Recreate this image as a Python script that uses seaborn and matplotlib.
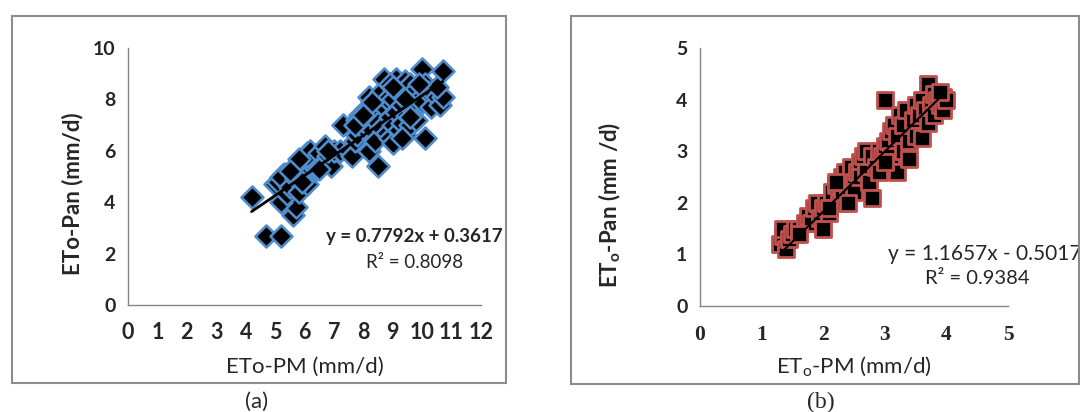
import numpy as np
import pandas as pd
import matplotlib
matplotlib.use("Agg")
import matplotlib.pyplot as plt
from matplotlib.patches import Rectangle
import seaborn as sns

# panel (a): ETo-PM vs ETo-Pan
pm_a = [4.2, 4.7, 5.2, 5.6, 5.7, 5.0, 5.1, 5.2, 5.3, 5.2, 5.4, 5.5, 5.6, 5.7, 5.8,
        5.9, 6.0, 6.0, 6.1, 6.2, 6.1, 6.3, 6.4, 6.5, 6.6, 6.7, 6.8, 6.9, 7.0, 7.2,
        6.8, 6.5, 5.8, 5.5, 5.9,
        7.3, 7.5, 7.6, 7.7, 7.8, 7.9, 7.8, 8.0, 8.1, 8.2, 8.2, 8.3, 8.4, 8.4, 8.5,
        8.5, 8.6, 8.6, 8.7, 8.7, 8.8, 8.8, 8.9, 8.9, 9.0, 9.0, 9.0, 9.1, 9.1, 9.2,
        9.2, 9.3, 9.3, 9.4, 9.4, 9.5, 9.5, 9.6, 9.6, 9.7, 9.8, 9.8, 9.9, 10.0, 10.0,
        10.1, 10.1, 10.2, 10.3, 10.4, 10.5, 10.6, 10.7, 10.7, 10.5, 9.9, 8.3, 7.7, 8.0,
        9.3, 9.6, 8.9, 9.0, 9.4]
pan_a = [4.2, 2.7, 2.7, 3.5, 3.8, 4.7, 4.8, 4.0, 5.1, 5.0, 4.3, 4.6, 5.3, 4.9, 4.4,
         5.5, 5.8, 5.0, 5.9, 6.0, 4.7, 5.6, 5.3, 5.9, 5.5, 6.2, 5.8, 5.4, 6.0, 6.0,
         6.0, 5.3, 5.7, 5.2, 4.8,
         7.0, 6.0, 5.8, 6.4, 7.2, 7.4, 6.6, 6.9, 7.6, 6.0, 8.1, 6.8, 7.5, 6.4, 5.4,
         7.1, 8.3, 6.9, 8.8, 7.7, 6.7, 8.0, 7.3, 6.5, 8.0, 7.0, 6.3, 8.8, 7.5, 6.8,
         8.4, 7.8, 7.1, 6.6, 8.7, 7.4, 8.1, 7.0, 8.6, 7.6, 8.4, 7.2, 8.0, 9.2, 7.9,
         6.5, 8.6, 8.3, 7.7, 8.2, 8.1, 7.8, 9.1, 8.1, 8.5, 8.6, 7.9, 7.0, 7.4,
         6.5, 7.3, 8.6, 8.5, 8.0]
slope_a, icpt_a = 0.7792, 0.3617
eq_a = "y = 0.7792x + 0.3617"
r2_a = "R² = 0.8098"

# panel (b): ETo-PM vs ETo-Pan
pm_b = [1.3, 1.35, 1.4, 1.35, 1.45, 1.5, 1.55, 1.6, 1.7, 1.75, 1.8, 1.85, 1.9, 1.95,
        2.0, 2.0, 2.05, 2.1, 2.15, 2.2, 2.25, 2.3, 2.3, 2.35, 2.4, 2.45, 2.5, 2.5,
        2.55, 2.6, 2.6, 2.65, 2.7, 2.7, 2.75, 2.8, 2.8, 2.85, 2.9, 2.95, 3.0, 3.0,
        3.05, 3.1, 3.1, 3.15, 3.2, 3.2, 3.25, 3.3, 3.3, 3.35, 3.4, 3.4, 3.45, 3.5,
        3.5, 3.55, 3.6, 3.6, 3.65, 3.7, 3.7, 3.75, 3.8, 3.8, 3.85, 3.9, 3.95, 3.95,
        4.0, 3.9, 2.2, 1.6, 2.9, 3.0, 2.4, 2.1]
pan_b = [1.2, 1.35, 1.1, 1.5, 1.3, 1.4, 1.5, 1.5, 1.6, 1.75, 1.6, 1.9, 2.0, 1.7,
         1.5, 1.9, 2.0, 1.8, 2.2, 2.35, 2.0, 2.5, 2.2, 2.6, 2.3, 2.7, 2.4, 2.2,
         2.6, 2.8, 2.5, 2.9, 3.0, 2.6, 2.4, 2.1, 2.9, 2.7, 3.0, 2.9, 3.1, 4.0,
         3.2, 3.4, 2.9, 3.5, 2.6, 3.3, 3.7, 3.0, 3.5, 3.8, 3.2, 2.85, 3.6, 3.9,
         3.3, 3.7, 3.25, 4.0, 3.8, 4.3, 3.55, 3.9, 4.1, 3.7, 4.0, 3.9, 4.05, 3.8,
         4.0, 4.15, 2.4, 1.4, 2.6, 2.8, 2.0, 1.9]
slope_b, icpt_b = 1.1657, -0.5017
eq_b = "y = 1.1657x - 0.5017"
r2_b = "R² = 0.9384"

df_a = pd.DataFrame({"pm": pm_a, "pan": pan_a})
df_b = pd.DataFrame({"pm": pm_b, "pan": pan_b})

sns.set_style("white")
plt.rcParams["font.family"] = ["Lato", "DejaVu Sans"]

W, H = 1080, 412
fig = plt.figure(figsize=(10.8, 4.12), dpi=100)

def box(x0, y0, x1, y1):
    # pixel coords, y from top
    return [x0 / W, 1 - y1 / H, (x1 - x0) / W, (y1 - y0) / H]

# panel frames
for (x0, y0, x1, y1) in [(12, 16, 506, 383), (571, 16, 1079, 384)]:
    fig.add_artist(Rectangle((x0 / W, 1 - y1 / H), (x1 - x0) / W, (y1 - y0) / H,
                             transform=fig.transFigure, fill=False,
                             edgecolor="#8c8c8c", linewidth=1.5))

spine_col = "#868686"

def style_axes(ax):
    sns.despine(ax=ax)
    for s in ["left", "bottom"]:
        ax.spines[s].set_color(spine_col)
        ax.spines[s].set_linewidth(1.0)
    ax.tick_params(axis="both", direction="out", length=6, width=1.0,
                   color=spine_col, labelsize=14, pad=3)

# ---- (a)
ax1 = fig.add_axes(box(128, 48, 481, 305))
sns.scatterplot(data=df_a, x="pm", y="pan", ax=ax1, marker="D", s=125,
                color="black", edgecolor="#4f8ccb", linewidth=1.9, zorder=3)
xa = np.array([min(pm_a), max(pm_a)])
ax1.plot(xa, slope_a * xa + icpt_a, color="black", linewidth=2, zorder=4)
ax1.set_xlim(0, 12)
ax1.set_ylim(0, 10)
ax1.set_xticks(range(0, 13))
ax1.set_yticks(range(0, 11, 2))
style_axes(ax1)
for lab in ax1.get_xticklabels() + ax1.get_yticklabels():
    lab.set_fontweight("bold")
ax1.tick_params(axis="x", labelsize=15.5, pad=6)
ax1.set_xlabel("ETo-PM (mm/d)", fontsize=16)
ax1.set_ylabel("ETo-Pan (mm/d)", fontsize=16, fontweight="bold")
ax1.xaxis.set_label_coords(0.501, -0.241)
ax1.yaxis.set_label_coords(-0.156, 0.432)
ax1.xaxis.label.set_va("center")
ax1.yaxis.label.set_va("center")
ax1.text(9.75, 2.68, eq_a, fontsize=13.5, fontweight="bold", ha="center", va="center")
ax1.text(9.75, 1.67, r2_a, fontsize=13.5, ha="center", va="center")
fig.text(257 / W, 1 - 402 / H, "(a)", fontsize=16, ha="center", va="center")

# ---- (b)
ax2 = fig.add_axes(box(700, 48, 1008, 306))
sns.scatterplot(data=df_b, x="pm", y="pan", ax=ax2, marker="s", s=145,
                color="black", edgecolor="#c0504d", linewidth=2.0, zorder=3)
xb = np.array([min(pm_b), max(pm_b)])
ax2.plot(xb, slope_b * xb + icpt_b, color="black", linewidth=1.5, zorder=4)
ax2.set_xlim(0, 5)
ax2.set_ylim(0, 5)
ax2.set_xticks(range(0, 6))
ax2.set_yticks(range(0, 6))
style_axes(ax2)
for lab in ax2.get_yticklabels():
    lab.set_fontweight("bold")
for lab in ax2.get_xticklabels():
    lab.set_family("Liberation Serif")
    lab.set_fontweight("bold")
    lab.set_fontsize(15.5)
ax2.tick_params(axis="x", pad=8)
ax2.set_xlabel(r"ET$_\mathregular{o}$-PM (mm/d)", fontsize=16)
ax2.set_ylabel(r"ET$_\mathregular{o}$-Pan (mm /d)", fontsize=16, fontweight="bold")
ax2.xaxis.set_label_coords(0.5, -0.236)
ax2.yaxis.set_label_coords(-0.292, 0.391)
ax2.xaxis.label.set_va("center")
ax2.yaxis.label.set_va("center")
ax2.text(888 / W, 1 - 254 / H, eq_b, transform=fig.transFigure, fontsize=15,
         ha="left", va="center")
ax2.text(977 / W, 1 - 279 / H, r2_b, transform=fig.transFigure, fontsize=14.5,
         ha="center", va="center")
fig.text(821 / W, 1 - 402 / H, "(b)", fontsize=17, family="Liberation Serif",
         ha="center", va="center")

fig.savefig("out.png", dpi=100)
